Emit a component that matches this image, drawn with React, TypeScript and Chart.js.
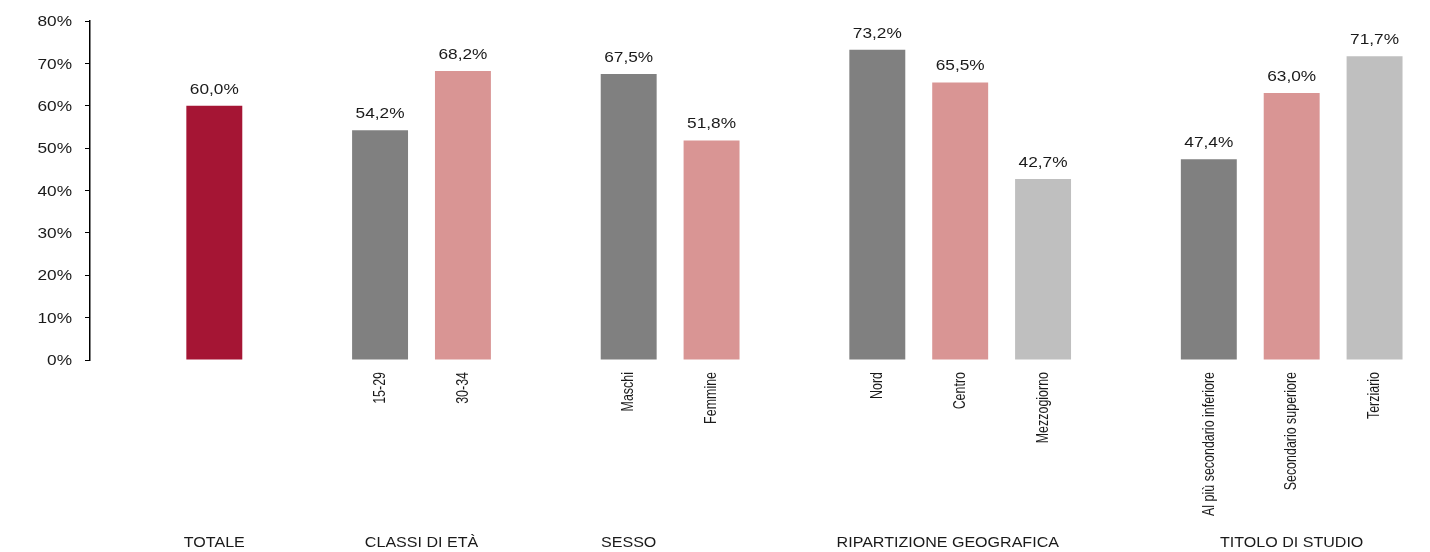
import React, { useEffect, useRef } from "react";
import { Chart, registerables } from "chart.js";

Chart.register(...registerables);

const categories: string[] = [
  "",
  "",
  "",
  "15-29",
  "30-34",
  "",
  "Maschi",
  "Femmine",
  "",
  "Nord",
  "Centro",
  "Mezzogiorno",
  "",
  "Al più secondario inferiore",
  "Secondario superiore",
  "Terziario",
];

const values: (number | null)[] = [
  null, 60.0, null, 54.2, 68.2, null, 67.5, 51.8, null, 73.2, 65.5, 42.7, null, 47.4, 63.0, 71.7,
];

const barColors: string[] = [
  "#ffffff", "#A51534", "#ffffff", "#808080", "#D99594", "#ffffff", "#808080", "#D99594",
  "#ffffff", "#808080", "#D99594", "#BFBFBF", "#ffffff", "#808080", "#D99594", "#BFBFBF",
];

const groupLabels: string[] = ["TOTALE", "CLASSI DI ETÀ", "SESSO", "RIPARTIZIONE GEOGRAFICA", "TITOLO DI STUDIO"];
const groupAt: number[] = [1, 3.5, 6, 9.85, 14];

const yTicks: number[] = [0, 10, 20, 30, 40, 50, 60, 70, 80];

const FONT = '"Liberation Sans", Arial, sans-serif';
const TEXT = "#1a1a1a";

const fmt = (v: number) => v.toFixed(1).replace(".", ",") + "%";

function stretchedText(ctx: any, text: string, x: number, y: number, sx: number, align: string) {
  ctx.save();
  ctx.translate(x, y);
  ctx.scale(sx, 1);
  ctx.textAlign = align;
  ctx.fillText(text, 0, 0);
  ctx.restore();
}

const textPlugin = {
  id: "customText",
  afterDraw(chart: any) {
    const ctx = chart.ctx;
    const xs = chart.scales.x;
    const ys = chart.scales.y;
    ctx.save();
    ctx.fillStyle = TEXT;
    ctx.font = `15px ${FONT}`;

    // y tick labels
    ctx.textBaseline = "middle";
    yTicks.forEach((t) => {
      stretchedText(ctx, `${t}%`, 72, ys.getPixelForValue(t) + 1, 1.15, "right");
    });

    // value labels
    ctx.textBaseline = "alphabetic";
    const meta = chart.getDatasetMeta(0);
    meta.data.forEach((bar: any, i: number) => {
      const v = values[i];
      if (v == null) return;
      stretchedText(ctx, fmt(v), bar.x, bar.y - 12, 1.15, "center");
    });

    // category labels (rotated, narrow)
    ctx.textBaseline = "middle";
    categories.forEach((c, i) => {
      if (!c) return;
      const x = xs.getPixelForValue(i);
      ctx.save();
      ctx.translate(x, xs.top + 12);
      ctx.rotate(-Math.PI / 2);
      ctx.scale(0.83, 1.15);
      ctx.textAlign = "right";
      ctx.fillText(c, 0, 0);
      ctx.restore();
    });

    // group labels
    ctx.textBaseline = "middle";
    groupLabels.forEach((g, i) => {
      stretchedText(ctx, g, xs.getPixelForValue(groupAt[i]), 543, 1.07, "center");
    });
    ctx.restore();
  },
};

export default function App() {
  const ref = useRef<HTMLCanvasElement>(null);
  useEffect(() => {
    if (!ref.current) return;
    const chart = new Chart(ref.current, {
      type: "bar",
      data: {
        labels: categories,
        datasets: [
          {
            data: values as any,
            backgroundColor: barColors,
            categoryPercentage: 1,
            barPercentage: 0.675,
          },
        ],
      },
      options: {
        animation: false,
        responsive: false,
        maintainAspectRatio: false,
        layout: { padding: { top: 21, right: 14, bottom: 0, left: 0 } },
        plugins: { legend: { display: false }, tooltip: { enabled: false } },
        scales: {
          x: {
            grid: { display: false, drawTicks: false },
            border: { display: false },
            ticks: { display: false, autoSkip: false },
            afterFit: (s: any) => {
              s.height = 192;
            },
          },
          y: {
            min: 0,
            max: 80,
            grid: { display: true, drawOnChartArea: false, drawTicks: true, tickLength: 5, color: "#000", lineWidth: 1 },
            border: { display: true, color: "#000", width: 1.5 },
            afterBuildTicks: (s: any) => {
              s.ticks = yTicks.map((v) => ({ value: v }));
            },
            ticks: { display: false },
            afterFit: (s: any) => {
              s.width = 90;
            },
          },
        },
      },
      plugins: [textPlugin],
    });
    return () => chart.destroy();
  }, []);
  return (
    <div style={{ position: "fixed", left: 0, top: 0, width: 1430, height: 552, background: "#fff" }}>
      <canvas ref={ref} width={1430} height={552} style={{ width: 1430, height: 552 }} />
    </div>
  );
}
